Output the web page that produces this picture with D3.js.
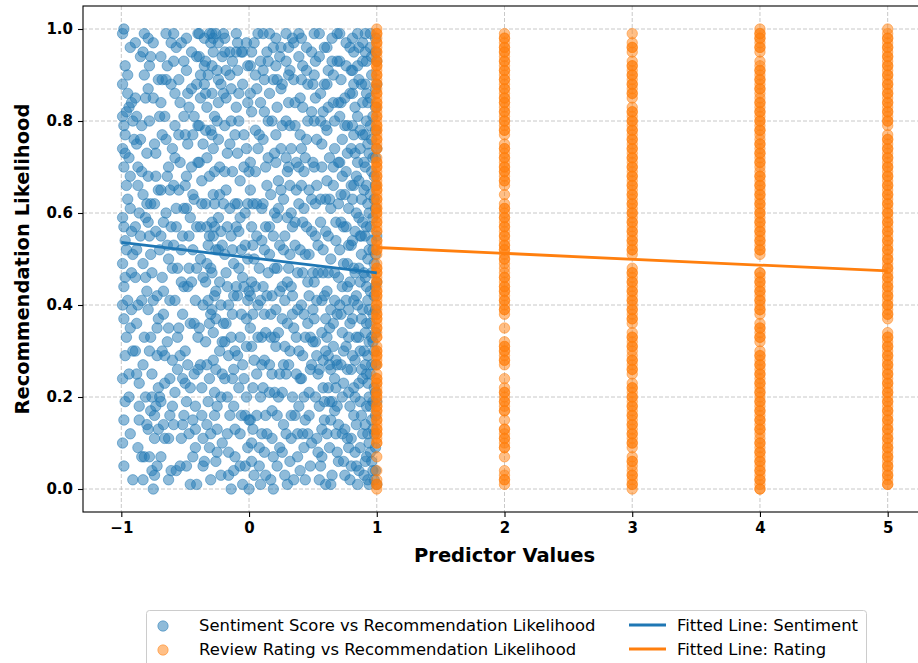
<!DOCTYPE html>
<html>
<head>
<meta charset="utf-8">
<script src="https://cdn.jsdelivr.net/npm/d3@7"></script>
<style>
  body { margin: 0; background: #fff; }
  svg { display: block; font-family: "DejaVu Sans", sans-serif; }
</style>
</head>
<body>
<svg id="chart" width="918" height="663"></svg>
<script>
// Sentiment score (x) vs recommendation likelihood (y)
const sentimentPointsA = [
  [-0.99,0.99],[-0.98,1.00],[-0.97,0.92],[-0.99,0.81],[-0.98,0.79],[-0.97,0.77],[-0.99,0.74],[-0.97,0.73],[-0.96,0.82],[-0.95,0.63],
  [-0.98,0.57],[-0.96,0.52],[-0.99,0.49],[-0.97,0.46],[-0.99,0.40],[-0.98,0.37],[-0.97,0.29],[-0.98,0.15],[-0.99,0.10],[-0.95,0.41],
  [-0.94,0.83],[-0.93,0.96],[-0.92,0.56],[-0.93,0.35],[-0.91,0.30],[-0.92,0.47],[-0.90,0.76],[-0.91,0.80],[-0.93,0.61],[-0.94,0.20],
  [-0.89,0.85],[-0.88,0.81],[-0.87,0.70],[-0.89,0.57],[-0.88,0.52],[-0.86,0.60],[-0.89,0.30],[-0.88,0.25],[-0.87,0.40],[-0.86,0.15],
  [-0.85,0.76],[-0.84,0.79],[-0.86,0.23],[-0.84,0.07],[-0.83,0.95],[-0.82,0.99],[-0.82,0.90],[-0.83,0.64],[-0.81,0.46],[-0.83,0.27],
  [-0.80,0.14],[-0.81,0.59],[-0.84,0.41],[-0.80,0.73],[-0.82,0.07],
  [-0.79,0.98],[-0.78,0.92],[-0.79,0.68],[-0.77,0.62],[-0.78,0.55],[-0.79,0.39],[-0.77,0.17],[-0.76,0.20],[-0.78,0.07],[-0.76,0.04],
  [-0.75,0.00],[-0.74,0.03],[-0.77,0.94],[-0.75,0.85],[-0.74,0.62],[-0.73,0.68],[-0.76,0.47],[-0.72,0.42],[-0.73,0.18],[-0.71,0.22],
  [-0.71,0.13],[-0.72,0.35],[-0.70,0.81],[-0.71,0.89],[-0.74,0.11],[-0.73,0.73],
  [-0.69,0.94],[-0.68,0.89],[-0.69,0.65],[-0.67,0.58],[-0.68,0.46],[-0.69,0.19],[-0.67,0.14],[-0.66,0.29],[-0.65,0.99],[-0.64,0.92],
  [-0.65,0.76],[-0.66,0.81],[-0.64,0.53],[-0.63,0.35],[-0.62,0.24],[-0.63,0.11],[-0.61,0.04],[-0.62,0.65],[-0.61,0.88],[-0.60,0.48],
  [-0.63,0.70],[-0.60,0.18],[-0.67,0.38],
  [-0.59,0.93],[-0.58,0.79],[-0.58,0.72],[-0.57,0.61],[-0.59,0.53],[-0.56,0.33],[-0.58,0.21],[-0.57,0.04],[-0.55,0.89],[-0.54,0.84],
  [-0.55,0.65],[-0.53,0.45],[-0.54,0.29],[-0.52,0.14],[-0.53,0.11],[-0.51,0.93],[-0.52,0.55],[-0.51,0.61],[-0.50,0.23],[-0.50,0.77],
  [-0.56,0.48],[-0.52,0.38],
  [-0.49,0.91],[-0.48,0.86],[-0.49,0.68],[-0.47,0.55],[-0.48,0.44],[-0.46,0.36],[-0.49,0.19],[-0.47,0.12],[-0.46,0.01],[-0.45,0.95],
  [-0.44,0.77],[-0.45,0.70],[-0.43,0.63],[-0.44,0.52],[-0.42,0.41],[-0.43,0.25],[-0.42,0.09],[-0.41,0.01],[-0.41,0.88],[-0.40,0.99],
  [-0.40,0.79],[-0.41,0.57],[-0.40,0.33],[-0.44,0.15],[-0.47,0.83],
  [-0.39,0.94],[-0.38,0.85],[-0.39,0.71],[-0.37,0.62],[-0.38,0.50],[-0.36,0.40],[-0.38,0.27],[-0.37,0.16],[-0.36,0.11],[-0.35,0.98],
  [-0.34,0.93],[-0.35,0.88],[-0.33,0.83],[-0.34,0.78],[-0.33,0.57],[-0.32,0.53],[-0.34,0.45],[-0.31,0.36],[-0.33,0.27],[-0.32,0.19],
  [-0.31,0.09],[-0.30,0.97],[-0.31,0.68],[-0.30,0.48],[-0.30,0.02],[-0.36,0.75],[-0.32,0.90],
  [-0.29,0.99],[-0.28,0.95],[-0.29,0.86],[-0.27,0.81],[-0.28,0.74],[-0.27,0.62],[-0.29,0.58],[-0.28,0.55],[-0.26,0.52],[-0.27,0.42],
  [-0.29,0.39],[-0.26,0.37],[-0.28,0.28],[-0.27,0.21],[-0.25,0.13],[-0.26,0.06],[-0.25,0.91],[-0.24,0.97],[-0.24,0.84],[-0.23,0.70],
  [-0.24,0.59],[-0.22,0.56],[-0.23,0.45],[-0.21,0.32],[-0.22,0.20],[-0.21,0.10],[-0.20,0.62],[-0.20,0.99],[-0.22,0.88],[-0.25,0.18],
  [-0.19,0.95],[-0.18,0.91],[-0.19,0.79],[-0.17,0.73],[-0.18,0.65],[-0.19,0.51],[-0.17,0.44],[-0.18,0.36],[-0.16,0.29],[-0.19,0.24],
  [-0.17,0.12],[-0.16,0.03],[-0.15,0.95],[-0.14,0.87],[-0.15,0.75],[-0.13,0.69],[-0.14,0.55],[-0.12,0.49],[-0.13,0.38],[-0.11,0.30],
  [-0.12,0.18],[-0.11,0.07],[-0.10,0.95],[-0.10,0.83],[-0.11,0.62],[-0.10,0.44],[-0.14,0.00],[-0.13,0.24],
  [-0.09,0.91],[-0.08,0.86],[-0.09,0.73],[-0.07,0.67],[-0.08,0.56],[-0.06,0.52],[-0.09,0.42],[-0.07,0.33],[-0.08,0.22],[-0.06,0.16],
  [-0.07,0.05],[-0.05,0.01],[-0.05,0.95],[-0.04,0.77],[-0.03,0.60],[-0.04,0.44],[-0.02,0.37],[-0.03,0.16],[-0.01,0.09],[-0.02,0.97],
  [-0.01,0.84],[0.00,0.69],[-0.01,0.50],[0.00,0.43],[0.00,0.00],[-0.05,0.27],
  [0.01,0.92],[0.02,0.95],[0.01,0.71],[0.03,0.62],[0.02,0.57],[0.01,0.42],[0.03,0.38],[0.02,0.31],[0.01,0.15],[0.03,0.13],
  [0.02,0.06],[0.04,0.03],[0.05,0.90],[0.06,0.87],[0.05,0.78],[0.07,0.74],[0.06,0.55],[0.08,0.48],[0.07,0.40],[0.06,0.25],
  [0.08,0.09],[0.09,0.01],[0.09,0.93],[0.10,0.61],[0.10,0.33],[0.04,0.50],[0.09,0.20],
  [0.11,0.99],[0.12,0.89],[0.11,0.76],[0.13,0.70],[0.12,0.52],[0.11,0.44],[0.13,0.34],[0.12,0.28],[0.14,0.12],[0.13,0.03],
  [0.15,0.93],[0.16,0.86],[0.15,0.80],[0.17,0.64],[0.16,0.57],[0.18,0.42],[0.17,0.33],[0.16,0.21],[0.18,0.11],[0.19,0.07],
  [0.19,0.96],[0.20,0.73],[0.20,0.48],[0.19,0.00],[0.14,0.66],[0.18,0.25],
  [0.21,0.92],[0.22,0.83],[0.21,0.77],[0.23,0.67],[0.22,0.59],[0.24,0.53],[0.21,0.39],[0.23,0.34],[0.22,0.16],[0.24,0.09],
  [0.25,0.96],[0.26,0.88],[0.25,0.74],[0.27,0.63],[0.26,0.44],[0.28,0.41],[0.27,0.27],[0.26,0.21],[0.28,0.03],[0.29,0.99],
  [0.29,0.80],[0.30,0.69],[0.30,0.36],[0.29,0.12],[0.24,0.25],[0.28,0.55],
  [0.31,0.96],[0.32,0.91],[0.31,0.84],[0.33,0.74],[0.32,0.66],[0.34,0.57],[0.31,0.48],[0.33,0.44],[0.32,0.30],[0.34,0.20],
  [0.33,0.11],[0.35,0.02],[0.35,0.97],[0.36,0.79],[0.37,0.71],[0.36,0.53],[0.38,0.39],[0.37,0.33],[0.36,0.16],[0.38,0.07],
  [0.39,0.94],[0.40,0.85],[0.39,0.62],[0.40,0.24],[0.39,0.18],[0.34,0.38],
  [0.41,0.98],[0.42,0.92],[0.41,0.74],[0.43,0.69],[0.42,0.58],[0.44,0.51],[0.41,0.40],[0.43,0.38],[0.42,0.29],[0.44,0.15],
  [0.43,0.09],[0.45,0.96],[0.46,0.88],[0.45,0.76],[0.47,0.65],[0.46,0.45],[0.48,0.33],[0.47,0.21],[0.46,0.12],[0.48,0.05],
  [0.49,0.82],[0.50,0.71],[0.49,0.56],[0.50,0.39],[0.49,0.27],[0.44,0.02],
  [0.51,0.99],[0.52,0.93],[0.51,0.80],[0.53,0.76],[0.52,0.62],[0.54,0.53],[0.51,0.45],[0.53,0.41],[0.52,0.32],[0.54,0.25],
  [0.55,0.18],[0.53,0.11],[0.56,0.05],[0.55,0.94],[0.56,0.86],[0.57,0.70],[0.56,0.58],[0.58,0.47],[0.57,0.34],[0.58,0.28],
  [0.59,0.19],[0.57,0.13],[0.59,0.88],[0.60,0.63],[0.60,0.37],[0.60,0.01],[0.58,0.82],[0.55,0.02],
  [0.61,0.96],[0.62,0.91],[0.61,0.78],[0.63,0.72],[0.62,0.55],[0.64,0.50],[0.61,0.43],[0.63,0.35],[0.62,0.29],[0.64,0.26],
  [0.63,0.19],[0.61,0.12],[0.65,0.03],[0.65,0.98],[0.66,0.84],[0.67,0.74],[0.66,0.66],[0.68,0.58],[0.67,0.41],[0.66,0.31],
  [0.68,0.22],[0.67,0.17],[0.69,0.08],[0.69,0.93],[0.70,0.71],[0.70,0.46],[0.69,0.27],[0.70,0.14],[0.64,0.61],
  [0.71,0.99],[0.72,0.89],[0.71,0.81],[0.73,0.76],[0.72,0.64],[0.74,0.57],[0.71,0.52],[0.73,0.44],[0.72,0.38],[0.74,0.30],
  [0.73,0.20],[0.75,0.13],[0.74,0.06],[0.76,0.97],[0.75,0.85],[0.77,0.79],[0.76,0.69],[0.78,0.61],[0.77,0.49],[0.76,0.41],
  [0.78,0.33],[0.77,0.26],[0.79,0.18],[0.78,0.09],[0.79,0.02],[0.80,0.91],[0.80,0.74],[0.80,0.53],[0.79,0.36],[0.80,0.11],
  [0.81,0.98],[0.82,0.95],[0.81,0.86],[0.83,0.83],[0.82,0.77],[0.84,0.68],[0.81,0.63],[0.83,0.56],[0.82,0.48],[0.84,0.42],
  [0.81,0.37],[0.83,0.28],[0.82,0.22],[0.84,0.14],[0.83,0.08],[0.85,0.01],[0.85,0.92],[0.86,0.89],[0.87,0.74],[0.86,0.59],
  [0.88,0.51],[0.87,0.45],[0.86,0.33],[0.88,0.26],[0.87,0.19],[0.86,0.04],[0.89,0.97],[0.89,0.84],[0.90,0.65],[0.89,0.39],
  [0.90,0.30],[0.89,0.12],[0.85,0.71],[0.88,0.55],
  [0.91,0.99],[0.92,0.93],[0.91,0.88],[0.93,0.84],[0.92,0.80],[0.94,0.73],[0.91,0.70],[0.93,0.62],[0.92,0.57],[0.94,0.52],
  [0.91,0.46],[0.93,0.41],[0.92,0.36],[0.94,0.32],[0.91,0.27],[0.93,0.23],[0.92,0.18],[0.94,0.10],[0.91,0.06],[0.93,0.02],
  [0.95,0.96],[0.96,0.90],[0.95,0.85],[0.97,0.81],[0.96,0.76],[0.98,0.68],[0.95,0.64],[0.97,0.59],[0.96,0.54],[0.98,0.49],
  [0.95,0.43],[0.97,0.38],[0.96,0.33],[0.98,0.30],[0.95,0.25],[0.97,0.19],[0.96,0.15],[0.98,0.12],[0.95,0.08],[0.97,0.04],
  [0.99,0.98],[0.99,0.87],[0.99,0.72],[0.99,0.61],[0.99,0.44],[0.99,0.34],[0.99,0.21],[0.99,0.09],[1.00,0.01],[1.00,0.93],[1.00,0.55]
];
const sentimentPointsB = [
  [-0.99,0.88],[-0.98,0.70],[-0.96,0.66],[-0.99,0.59],[-0.97,0.54],[-0.98,0.44],[-0.96,0.33],[-0.99,0.24],[-0.97,0.19],[-0.98,0.05],
  [-0.95,0.90],[-0.94,0.72],[-0.93,0.68],[-0.92,0.84],[-0.91,0.51],[-0.92,0.39],[-0.94,0.25],[-0.93,0.12],[-0.91,0.02],[-0.95,0.86],
  [-0.89,0.97],[-0.88,0.75],[-0.87,0.66],[-0.89,0.46],[-0.88,0.36],[-0.86,0.18],[-0.87,0.09],[-0.85,0.55],[-0.84,0.69],[-0.83,0.49],
  [-0.82,0.33],[-0.81,0.20],[-0.85,0.94],[-0.81,0.85],[-0.83,0.02],[-0.80,0.62],[-0.80,0.43],
  [-0.79,0.87],[-0.78,0.80],[-0.79,0.58],[-0.77,0.51],[-0.78,0.30],[-0.76,0.25],[-0.79,0.13],[-0.75,0.97],[-0.74,0.75],[-0.73,0.56],
  [-0.75,0.41],[-0.72,0.29],[-0.74,0.16],[-0.72,0.05],[-0.71,0.65],[-0.70,0.52],[-0.71,0.37],[-0.70,0.20],[-0.77,0.33],
  [-0.69,0.84],[-0.68,0.77],[-0.69,0.55],[-0.67,0.43],[-0.68,0.30],[-0.66,0.23],[-0.69,0.07],[-0.65,0.89],[-0.64,0.68],[-0.65,0.60],
  [-0.63,0.50],[-0.62,0.41],[-0.64,0.32],[-0.62,0.16],[-0.61,0.97],[-0.60,0.74],[-0.61,0.57],[-0.60,0.28],[-0.66,0.11],[-0.63,0.02],
  [-0.59,0.99],[-0.58,0.86],[-0.59,0.66],[-0.57,0.57],[-0.58,0.41],[-0.56,0.26],[-0.59,0.14],[-0.55,0.77],[-0.54,0.71],[-0.53,0.52],
  [-0.55,0.35],[-0.52,0.24],[-0.54,0.05],[-0.51,0.81],[-0.50,0.66],[-0.51,0.44],[-0.50,0.30],[-0.51,0.16],[-0.57,0.96],[-0.53,0.97],
  [-0.49,0.98],[-0.48,0.75],[-0.49,0.61],[-0.47,0.48],[-0.48,0.27],[-0.46,0.22],[-0.49,0.05],[-0.45,0.87],[-0.44,0.64],[-0.45,0.45],
  [-0.43,0.36],[-0.42,0.18],[-0.44,0.07],[-0.41,0.94],[-0.40,0.71],[-0.41,0.48],[-0.40,0.26],[-0.42,0.13],[-0.46,0.59],[-0.43,0.81],
  [-0.39,0.99],[-0.38,0.90],[-0.39,0.79],[-0.37,0.67],[-0.38,0.57],[-0.36,0.46],[-0.39,0.35],[-0.37,0.22],[-0.36,0.05],[-0.35,0.92],
  [-0.34,0.86],[-0.33,0.72],[-0.34,0.62],[-0.33,0.49],[-0.32,0.41],[-0.34,0.32],[-0.31,0.24],[-0.33,0.14],[-0.31,0.99],[-0.30,0.78],
  [-0.31,0.55],[-0.30,0.38],[-0.30,0.12],[-0.35,0.06],
  [-0.29,0.92],[-0.28,0.98],[-0.29,0.77],[-0.27,0.69],[-0.28,0.64],[-0.27,0.57],[-0.29,0.47],[-0.26,0.43],[-0.28,0.34],[-0.27,0.16],
  [-0.25,0.08],[-0.26,0.99],[-0.25,0.80],[-0.24,0.76],[-0.23,0.64],[-0.24,0.52],[-0.22,0.40],[-0.23,0.30],[-0.21,0.25],[-0.22,0.03],
  [-0.21,0.94],[-0.20,0.86],[-0.21,0.53],[-0.20,0.36],[-0.24,0.89],[-0.26,0.26],
  [-0.19,0.98],[-0.18,0.85],[-0.19,0.69],[-0.17,0.57],[-0.18,0.47],[-0.16,0.40],[-0.19,0.32],[-0.17,0.20],[-0.16,0.08],[-0.15,0.90],
  [-0.14,0.80],[-0.15,0.61],[-0.13,0.52],[-0.12,0.42],[-0.14,0.33],[-0.12,0.26],[-0.11,0.13],[-0.10,0.99],[-0.11,0.77],[-0.10,0.57],
  [-0.12,0.04],[-0.15,0.16],[-0.13,0.93],
  [-0.09,0.97],[-0.08,0.80],[-0.09,0.62],[-0.07,0.59],[-0.08,0.48],[-0.06,0.38],[-0.09,0.29],[-0.07,0.12],[-0.06,0.95],[-0.05,0.88],
  [-0.04,0.70],[-0.03,0.53],[-0.04,0.24],[-0.02,0.20],[-0.03,0.05],[-0.01,0.92],[-0.02,0.74],[-0.01,0.41],[-0.02,0.31],[0.00,0.15],
  [-0.01,0.62],[-0.05,0.46],
  [0.01,0.86],[0.02,0.82],[0.01,0.65],[0.03,0.53],[0.02,0.45],[0.01,0.35],[0.03,0.22],[0.02,0.10],[0.04,0.97],[0.05,0.69],
  [0.06,0.62],[0.05,0.44],[0.07,0.33],[0.06,0.16],[0.08,0.05],[0.09,0.84],[0.08,0.77],[0.10,0.54],[0.09,0.41],[0.10,0.27],
  [0.10,0.12],[0.04,0.28],[0.07,0.99],
  [0.11,0.91],[0.12,0.82],[0.11,0.62],[0.13,0.57],[0.12,0.38],[0.11,0.22],[0.13,0.16],[0.12,0.08],[0.14,0.95],[0.15,0.72],
  [0.16,0.51],[0.15,0.47],[0.17,0.38],[0.16,0.27],[0.18,0.17],[0.17,0.02],[0.19,0.89],[0.18,0.80],[0.20,0.60],[0.19,0.55],
  [0.20,0.33],[0.20,0.21],[0.14,0.42],[0.16,0.99],
  [0.21,0.98],[0.22,0.89],[0.21,0.71],[0.23,0.61],[0.22,0.48],[0.24,0.43],[0.21,0.31],[0.23,0.20],[0.22,0.05],[0.25,0.87],
  [0.26,0.79],[0.25,0.65],[0.27,0.52],[0.26,0.37],[0.28,0.31],[0.27,0.14],[0.26,0.08],[0.29,0.93],[0.29,0.72],[0.30,0.59],
  [0.30,0.45],[0.29,0.25],[0.30,0.01],[0.24,0.94],
  [0.31,0.90],[0.32,0.79],[0.31,0.70],[0.33,0.60],[0.32,0.51],[0.34,0.42],[0.31,0.27],[0.33,0.16],[0.32,0.06],[0.35,0.89],
  [0.36,0.84],[0.37,0.65],[0.36,0.58],[0.38,0.47],[0.37,0.25],[0.38,0.12],[0.39,0.99],[0.40,0.77],[0.39,0.70],[0.40,0.52],
  [0.39,0.30],[0.40,0.04],[0.35,0.35],[0.34,0.98],
  [0.41,0.89],[0.42,0.83],[0.41,0.66],[0.43,0.61],[0.42,0.47],[0.44,0.33],[0.41,0.24],[0.43,0.20],[0.42,0.12],[0.45,0.91],
  [0.46,0.80],[0.45,0.57],[0.47,0.51],[0.46,0.36],[0.48,0.26],[0.47,0.16],[0.49,0.95],[0.50,0.88],[0.49,0.63],[0.50,0.47],
  [0.50,0.32],[0.49,0.10],[0.44,0.72],[0.47,0.42],
  [0.51,0.90],[0.52,0.85],[0.51,0.70],[0.53,0.66],[0.52,0.55],[0.54,0.47],[0.51,0.37],[0.53,0.29],[0.52,0.20],[0.54,0.08],
  [0.55,0.99],[0.56,0.80],[0.57,0.75],[0.56,0.63],[0.58,0.52],[0.57,0.41],[0.58,0.22],[0.59,0.15],[0.57,0.07],[0.59,0.96],
  [0.60,0.79],[0.60,0.56],[0.60,0.30],[0.59,0.42],[0.55,0.26],
  [0.61,0.88],[0.62,0.83],[0.61,0.67],[0.63,0.63],[0.62,0.47],[0.64,0.39],[0.61,0.33],[0.63,0.27],[0.62,0.22],[0.64,0.15],
  [0.63,0.09],[0.65,0.93],[0.66,0.90],[0.67,0.80],[0.66,0.70],[0.68,0.54],[0.67,0.47],[0.66,0.36],[0.68,0.28],[0.67,0.24],
  [0.69,0.18],[0.68,0.12],[0.69,0.99],[0.70,0.84],[0.70,0.62],[0.69,0.38],[0.70,0.06],[0.65,0.19],[0.64,0.01],
  [0.71,0.93],[0.72,0.84],[0.71,0.71],[0.73,0.68],[0.72,0.58],[0.74,0.49],[0.71,0.40],[0.73,0.34],[0.72,0.27],[0.74,0.23],
  [0.73,0.12],[0.75,0.03],[0.76,0.92],[0.75,0.79],[0.77,0.73],[0.76,0.57],[0.78,0.53],[0.77,0.44],[0.76,0.31],[0.78,0.21],
  [0.77,0.11],[0.79,0.96],[0.79,0.86],[0.80,0.66],[0.79,0.45],[0.80,0.26],[0.80,0.05],[0.75,0.64],[0.78,0.39],
  [0.81,0.91],[0.82,0.88],[0.81,0.79],[0.83,0.73],[0.82,0.66],[0.84,0.60],[0.81,0.54],[0.83,0.47],[0.82,0.41],[0.84,0.33],
  [0.81,0.29],[0.83,0.20],[0.82,0.16],[0.84,0.05],[0.85,0.99],[0.86,0.96],[0.85,0.81],[0.87,0.78],[0.86,0.67],[0.88,0.63],
  [0.87,0.55],[0.86,0.48],[0.88,0.37],[0.87,0.30],[0.86,0.23],[0.88,0.16],[0.87,0.09],[0.89,0.93],[0.89,0.77],[0.90,0.71],
  [0.89,0.58],[0.90,0.47],[0.89,0.24],[0.90,0.03],[0.88,0.88],[0.85,0.40],
  [0.91,0.95],[0.92,0.86],[0.91,0.77],[0.93,0.75],[0.92,0.66],[0.94,0.60],[0.91,0.55],[0.93,0.50],[0.92,0.44],[0.94,0.39],
  [0.91,0.34],[0.93,0.29],[0.92,0.25],[0.94,0.20],[0.91,0.14],[0.93,0.12],[0.92,0.07],[0.94,0.01],[0.95,0.99],[0.96,0.94],
  [0.95,0.79],[0.97,0.72],[0.96,0.69],[0.98,0.63],[0.95,0.57],[0.97,0.52],[0.96,0.47],[0.98,0.42],[0.95,0.36],[0.97,0.32],
  [0.96,0.27],[0.98,0.22],[0.95,0.18],[0.97,0.13],[0.96,0.06],[0.98,0.02],[0.99,0.95],[0.99,0.83],[0.99,0.78],[0.99,0.66],
  [0.99,0.51],[0.99,0.39],[0.99,0.27],[0.99,0.16],[0.99,0.04],[1.00,0.88],[1.00,0.74],[1.00,0.45],[1.00,0.19]
];
const sentimentPoints = sentimentPointsA.concat(sentimentPointsB);

// Review rating (1..5) vs recommendation likelihood (values repeat where the column is darker)
const ratings = [1, 2, 3, 4, 5];
const rating1Likelihood = [0.00,0.01,0.02,0.04,0.07,0.10,0.11,0.12,0.13,0.14,0.15,0.16,0.17,0.18,0.19,0.20,0.21,0.22,0.23,0.24,0.25,0.27,0.28,0.29,0.30,0.31,0.33,0.34,0.35,0.36,0.37,0.38,0.39,0.40,0.41,0.42,0.43,0.44,0.45,0.46,0.47,0.48,0.49,0.51,0.52,0.53,0.54,0.56,0.57,0.58,0.59,0.60,0.61,0.62,0.63,0.64,0.65,0.66,0.67,0.68,0.69,0.70,0.71,0.72,0.74,0.75,0.76,0.77,0.78,0.79,0.80,0.81,0.82,0.83,0.84,0.85,0.86,0.87,0.88,0.89,0.90,0.91,0.92,0.93,0.94,0.95,0.96,0.97,0.98,0.99,1.00,
  0.01,0.10,0.12,0.13,0.15,0.17,0.18,0.20,0.21,0.23,0.24,0.27,0.29,0.30,0.33,0.35,0.37,0.38,0.40,0.42,0.43,0.45,0.47,0.48,0.52,0.54,0.56,0.58,0.60,0.61,0.63,0.65,0.66,0.68,0.70,0.71,0.74,0.76,0.78,0.79,0.81,0.83,0.84,0.86,0.88,0.90,0.92,0.93,0.95,0.97,0.99];
const rating2Likelihood = [0.01,0.02,0.03,0.04,0.07,0.09,0.10,0.11,0.12,0.13,0.15,0.17,0.18,0.19,0.20,0.21,0.22,0.24,0.27,0.28,0.29,0.30,0.31,0.32,0.35,0.38,0.39,0.40,0.41,0.42,0.43,0.44,0.45,0.46,0.47,0.48,0.49,0.50,0.51,0.52,0.53,0.54,0.55,0.56,0.57,0.58,0.59,0.60,0.61,0.62,0.64,0.66,0.67,0.68,0.69,0.70,0.71,0.72,0.73,0.74,0.75,0.77,0.78,0.79,0.80,0.81,0.82,0.83,0.84,0.85,0.86,0.87,0.88,0.89,0.90,0.91,0.92,0.93,0.94,0.95,0.96,0.97,0.98,0.99,
  0.02,0.09,0.11,0.13,0.17,0.19,0.21,0.28,0.30,0.31,0.39,0.41,0.43,0.44,0.46,0.50,0.52,0.53,0.55,0.57,0.59,0.61,0.67,0.69,0.70,0.72,0.74,0.78,0.80,0.82,0.84,0.85,0.87,0.89,0.91,0.93,0.95,0.96,0.98];
const rating3Likelihood = [0.00,0.01,0.02,0.03,0.04,0.05,0.06,0.07,0.09,0.10,0.11,0.12,0.13,0.14,0.15,0.16,0.17,0.18,0.19,0.20,0.21,0.22,0.23,0.25,0.26,0.27,0.28,0.29,0.30,0.31,0.32,0.33,0.34,0.36,0.37,0.38,0.39,0.40,0.41,0.42,0.43,0.44,0.45,0.46,0.47,0.48,0.51,0.52,0.53,0.54,0.55,0.56,0.57,0.58,0.59,0.60,0.61,0.62,0.63,0.64,0.65,0.66,0.67,0.68,0.69,0.70,0.71,0.72,0.73,0.74,0.75,0.76,0.77,0.78,0.79,0.80,0.81,0.82,0.83,0.85,0.86,0.87,0.88,0.89,0.90,0.91,0.92,0.93,0.95,0.96,0.97,0.99,
  0.01,0.03,0.06,0.10,0.12,0.14,0.16,0.18,0.20,0.22,0.26,0.28,0.31,0.33,0.37,0.39,0.41,0.43,0.45,0.47,0.52,0.54,0.56,0.58,0.60,0.62,0.64,0.66,0.68,0.70,0.72,0.74,0.76,0.78,0.80,0.82,0.86,0.88,0.90,0.92,0.96];
const rating4Likelihood = [0.00,0.01,0.02,0.03,0.04,0.05,0.06,0.07,0.08,0.09,0.10,0.11,0.12,0.13,0.14,0.15,0.16,0.17,0.18,0.19,0.20,0.21,0.22,0.23,0.24,0.25,0.26,0.27,0.28,0.29,0.30,0.32,0.33,0.34,0.35,0.36,0.38,0.39,0.40,0.41,0.42,0.43,0.44,0.45,0.46,0.47,0.51,0.52,0.53,0.54,0.55,0.56,0.57,0.58,0.59,0.60,0.61,0.62,0.63,0.64,0.65,0.66,0.67,0.68,0.69,0.70,0.71,0.72,0.73,0.74,0.75,0.76,0.77,0.78,0.79,0.80,0.81,0.82,0.83,0.84,0.85,0.86,0.87,0.88,0.89,0.90,0.91,0.92,0.93,0.95,0.96,0.97,0.98,0.99,1.00,
  0.00,0.02,0.04,0.06,0.08,0.10,0.13,0.15,0.17,0.19,0.21,0.23,0.25,0.27,0.29,0.33,0.35,0.39,0.41,0.43,0.45,0.47,0.52,0.54,0.56,0.58,0.60,0.62,0.64,0.66,0.68,0.71,0.73,0.75,0.78,0.80,0.82,0.84,0.87,0.89,0.91,0.96,0.98,0.99];
const rating5Likelihood = [0.01,0.02,0.03,0.04,0.05,0.06,0.07,0.08,0.09,0.10,0.11,0.12,0.13,0.14,0.15,0.16,0.17,0.18,0.19,0.20,0.21,0.22,0.23,0.24,0.25,0.26,0.27,0.28,0.29,0.30,0.31,0.32,0.33,0.34,0.37,0.38,0.39,0.40,0.41,0.42,0.43,0.44,0.45,0.46,0.47,0.48,0.49,0.50,0.51,0.52,0.53,0.54,0.55,0.56,0.57,0.58,0.59,0.60,0.61,0.62,0.63,0.64,0.65,0.66,0.67,0.68,0.69,0.70,0.71,0.72,0.73,0.74,0.75,0.76,0.77,0.79,0.80,0.81,0.82,0.83,0.84,0.85,0.86,0.87,0.88,0.89,0.90,0.91,0.92,0.93,0.94,0.95,0.96,0.97,0.98,0.99,1.00,
  0.01,0.03,0.05,0.07,0.09,0.11,0.13,0.15,0.17,0.19,0.21,0.23,0.25,0.27,0.29,0.31,0.33,0.38,0.40,0.42,0.44,0.46,0.48,0.50,0.52,0.54,0.56,0.58,0.60,0.62,0.64,0.66,0.68,0.70,0.72,0.74,0.76,0.80,0.82,0.84,0.86,0.88,0.90,0.92,0.94,0.96,0.98];
const ratingLikelihood = [rating1Likelihood, rating2Likelihood, rating3Likelihood, rating4Likelihood, rating5Likelihood];

// Fitted line end points
const sentimentFitX = [-1, 1];
const sentimentFitY = [0.536, 0.470];
const ratingFitX = [1, 5];
const ratingFitY = [0.525, 0.474];

const xTicks = [-1, 0, 1, 2, 3, 4, 5];
const yTicks = [0.0, 0.2, 0.4, 0.6, 0.8, 1.0];
const legendLabels = [
  "Sentiment Score vs Recommendation Likelihood",
  "Review Rating vs Recommendation Likelihood",
  "Fitted Line: Sentiment",
  "Fitted Line: Rating"
];

const blue = "#1f77b4";
const orange = "#ff7f0e";
const markerR = 5.2;

const svg = d3.select("#chart");
// Margin convention (right edge of the axes falls outside the window, as in the picture)
const margin = { top: 6, left: 83 };
const plotW = 843;
const plotH = 506;

const x = d3.scaleLinear().domain([-1.3, 5.3]).range([margin.left, margin.left + plotW]);
const y = d3.scaleLinear().domain([-0.05, 1.05]).range([margin.top + plotH, margin.top]);

svg.append("defs").append("clipPath").attr("id", "plotClip")
  .append("rect")
  .attr("x", margin.left).attr("y", margin.top)
  .attr("width", plotW).attr("height", plotH);

// Grid
const grid = svg.append("g").attr("stroke", "#b0b0b0").attr("stroke-width", 0.8)
  .attr("stroke-dasharray", "4,2").attr("opacity", 0.85);
grid.selectAll("line.gx").data(xTicks).enter().append("line")
  .attr("x1", (d) => x(d)).attr("x2", (d) => x(d))
  .attr("y1", margin.top).attr("y2", margin.top + plotH);
grid.selectAll("line.gy").data(yTicks).enter().append("line")
  .attr("x1", margin.left).attr("x2", margin.left + plotW)
  .attr("y1", (d) => y(d)).attr("y2", (d) => y(d));

const plot = svg.append("g").attr("clip-path", "url(#plotClip)");

// Scatter markers: face and edge both half transparent, like matplotlib
function dots(g, data, color) {
  g.selectAll("circle")
    .data(data).enter().append("circle")
    .attr("cx", (d) => x(d[0]))
    .attr("cy", (d) => y(d[1]))
    .attr("r", markerR)
    .attr("fill", color).attr("fill-opacity", 0.5)
    .attr("stroke", color).attr("stroke-opacity", 0.5).attr("stroke-width", 1);
}
dots(plot.append("g"), sentimentPoints, blue);
const ratingPoints = ratings.flatMap((r, i) => ratingLikelihood[i].map((v) => [r, v]));
dots(plot.append("g"), ratingPoints, orange);

// Fitted lines
const line = d3.line().x((d) => x(d[0])).y((d) => y(d[1]));
plot.append("path")
  .attr("d", line(sentimentFitX.map((v, i) => [v, sentimentFitY[i]])))
  .attr("fill", "none").attr("stroke", blue).attr("stroke-width", 2.8);
plot.append("path")
  .attr("d", line(ratingFitX.map((v, i) => [v, ratingFitY[i]])))
  .attr("fill", "none").attr("stroke", orange).attr("stroke-width", 2.8);

// Spines
svg.append("rect")
  .attr("x", margin.left).attr("y", margin.top)
  .attr("width", plotW).attr("height", plotH)
  .attr("fill", "none").attr("stroke", "#000").attr("stroke-width", 1.1);

// Axes
const xAxis = svg.append("g")
  .attr("transform", `translate(0,${margin.top + plotH})`)
  .call(d3.axisBottom(x).tickValues(xTicks).tickSize(5).tickPadding(5).tickFormat((d) => d < 0 ? "\u2212" + Math.abs(d) : d));
const yAxis = svg.append("g")
  .attr("transform", `translate(${margin.left},0)`)
  .call(d3.axisLeft(y).tickValues(yTicks).tickSize(5).tickPadding(5).tickFormat(d3.format(".1f")));
[xAxis, yAxis].forEach((a) => {
  a.select(".domain").remove();
  a.selectAll(".tick line").attr("stroke", "#000").attr("stroke-width", 1.1);
  a.selectAll(".tick text")
    .attr("fill", "#000")
    .attr("font-family", "DejaVu Sans")
    .attr("font-size", 15)
    .attr("font-weight", "bold");
});

// Axis titles
svg.append("text")
  .attr("x", margin.left + plotW / 2).attr("y", 562)
  .attr("text-anchor", "middle")
  .attr("font-size", 19.5).attr("font-weight", "bold")
  .text("Predictor Values");
svg.append("text")
  .attr("transform", `translate(29,${margin.top + plotH / 2}) rotate(-90)`)
  .attr("text-anchor", "middle")
  .attr("font-size", 19.5).attr("font-weight", "bold")
  .text("Recommendation Likelihood");

// Legend
const legend = svg.append("g");
legend.append("rect")
  .attr("x", 146.5).attr("y", 610.5)
  .attr("width", 720).attr("height", 62)
  .attr("rx", 3)
  .attr("fill", "#fff").attr("fill-opacity", 0.8)
  .attr("stroke", "#cccccc");
const rowY = [625, 649];
[0, 1].forEach((i) => {
  const c = i === 0 ? blue : orange;
  legend.append("circle")
    .attr("cx", 163).attr("cy", rowY[i] + 1)
    .attr("r", markerR)
    .attr("fill", c).attr("fill-opacity", 0.5)
    .attr("stroke", c).attr("stroke-opacity", 0.5).attr("stroke-width", 1);
  legend.append("text")
    .attr("x", 199).attr("y", rowY[i]).attr("dy", "0.35em")
    .attr("font-size", 16.4)
    .text(legendLabels[i]);
  legend.append("line")
    .attr("x1", 629).attr("x2", 666)
    .attr("y1", rowY[i]).attr("y2", rowY[i])
    .attr("stroke", c).attr("stroke-width", 2.8);
  legend.append("text")
    .attr("x", 677).attr("y", rowY[i]).attr("dy", "0.35em")
    .attr("font-size", 16.4)
    .text(legendLabels[i + 2]);
});
</script>
</body>
</html>
